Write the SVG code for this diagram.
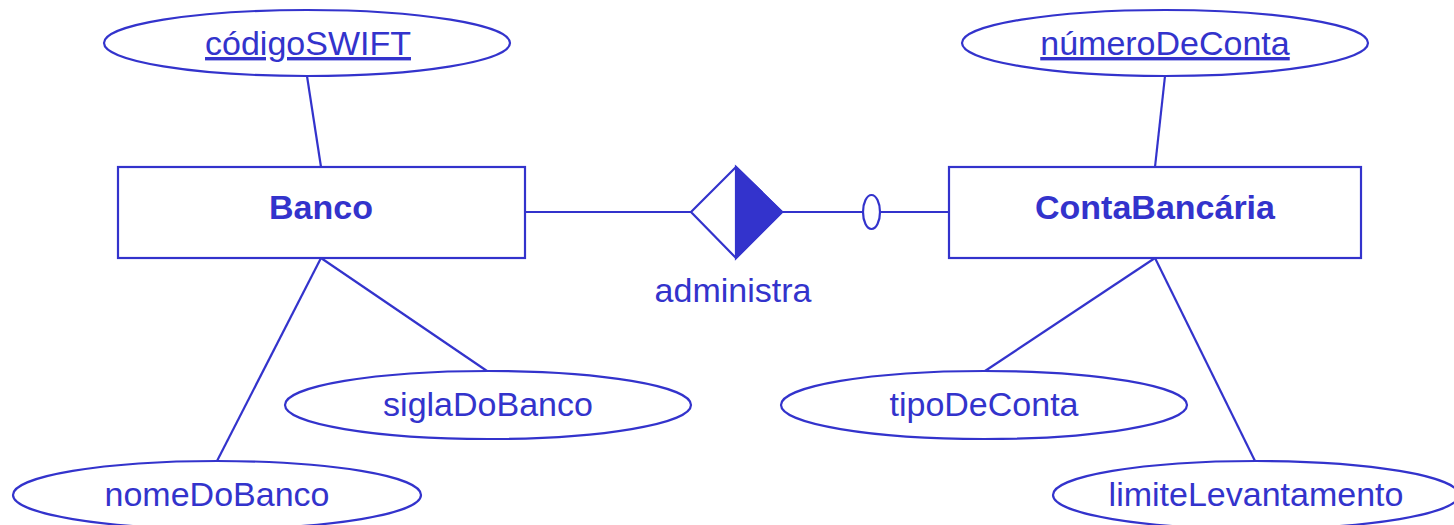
<svg xmlns="http://www.w3.org/2000/svg" width="1454" height="525" viewBox="0 0 1454 525">
  <style>
    .shape { fill: #ffffff; stroke: #3333cc; stroke-width: 2.2; }
    .line { stroke: #3333cc; stroke-width: 2.2; fill: none; }
    text { font-family: "Liberation Sans", Arial, sans-serif; font-size: 34px; fill: #3333cc; text-anchor: middle; }
    .entity { font-weight: bold; }
    .key { text-decoration: underline; }
  </style>
  <rect width="1454" height="525" fill="#ffffff"/>

  <g id="connectors">
    <line class="line" x1="307" y1="76" x2="321" y2="167"/>
    <line class="line" x1="321" y1="258" x2="217" y2="461"/>
    <line class="line" x1="321" y1="258" x2="487" y2="371"/>
    <line class="line" x1="525" y1="212" x2="691" y2="212"/>
    <line class="line" x1="782" y1="212" x2="949" y2="212"/>
    <ellipse class="shape" cx="871.5" cy="212" rx="8.5" ry="17"/>
    <line class="line" x1="1165" y1="76" x2="1155" y2="167"/>
    <line class="line" x1="1155" y1="258" x2="985" y2="371"/>
    <line class="line" x1="1155" y1="258" x2="1255" y2="461"/>
  </g>

  <g id="banco">
    <rect class="shape" x="118" y="167" width="407" height="91"/>
    <text class="entity" x="321" y="219">Banco</text>
  </g>

  <g id="contaBancaria">
    <rect class="shape" x="949" y="167" width="412" height="91"/>
    <text class="entity" x="1155" y="219">ContaBancária</text>
  </g>

  <g id="administra">
    <polygon class="shape" points="691,212 736,167 782,212 736,258"/>
    <polygon points="736,167 782,212 736,258" fill="#3333cc" stroke="#3333cc" stroke-width="2.2"/>
    <text x="733" y="302">administra</text>
  </g>

  <g id="codigoSWIFT">
    <ellipse class="shape" cx="307" cy="43" rx="203" ry="33"/>
    <text class="key" x="308" y="55">códigoSWIFT</text>
  </g>

  <g id="nomeDoBanco">
    <ellipse class="shape" cx="217" cy="495" rx="204" ry="34"/>
    <text x="217" y="506">nomeDoBanco</text>
  </g>

  <g id="siglaDoBanco">
    <ellipse class="shape" cx="488" cy="405" rx="203" ry="34"/>
    <text x="488" y="416">siglaDoBanco</text>
  </g>

  <g id="numeroDeConta">
    <ellipse class="shape" cx="1165" cy="43" rx="203" ry="33"/>
    <text class="key" x="1165" y="55">númeroDeConta</text>
  </g>

  <g id="tipoDeConta">
    <ellipse class="shape" cx="984" cy="405" rx="203" ry="34"/>
    <text x="984" y="416">tipoDeConta</text>
  </g>

  <g id="limiteLevantamento">
    <ellipse class="shape" cx="1256" cy="495" rx="203" ry="34"/>
    <text x="1256" y="506">limiteLevantamento</text>
  </g>
</svg>
